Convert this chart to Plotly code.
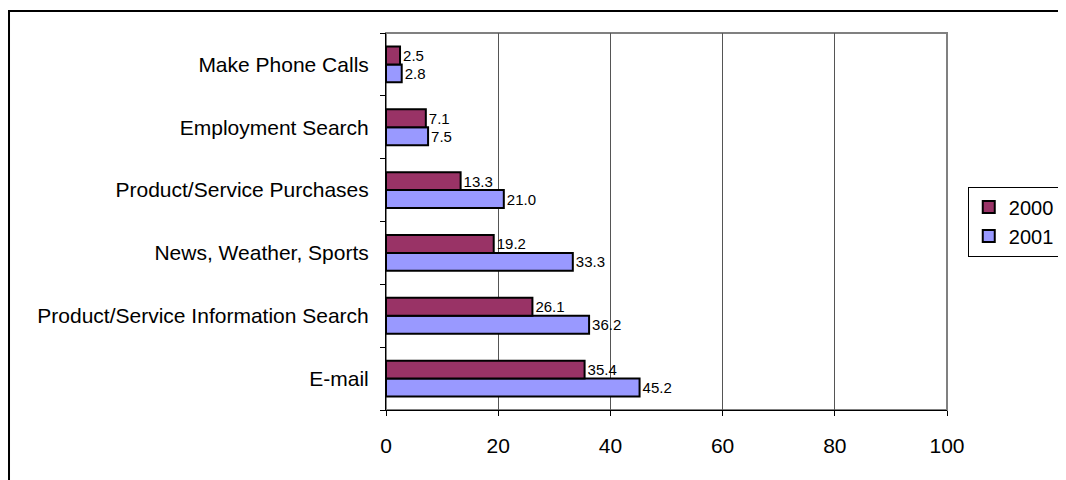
import plotly.graph_objects as go

categories = ["E-mail", "Product/Service Information Search", "News, Weather, Sports",
              "Product/Service Purchases", "Employment Search", "Make Phone Calls"]
values_2000 = [35.4, 26.1, 19.2, 13.3, 7.1, 2.5]
values_2001 = [45.2, 36.2, 33.3, 21.0, 7.5, 2.8]

font = "Liberation Sans, Arial, sans-serif"

fig = go.Figure()
# 2001 first so it sits below 2000 inside each group
fig.add_trace(go.Bar(y=categories, x=values_2001, name="2001", orientation="h",
                     marker=dict(color="#9999FF", line=dict(color="black", width=2)),
                     text=values_2001, texttemplate="%{x:.1f}", textposition="outside",
                     textfont=dict(size=15, color="black"), cliponaxis=False))
fig.add_trace(go.Bar(y=categories, x=values_2000, name="2000", orientation="h",
                     marker=dict(color="#993366", line=dict(color="black", width=2)),
                     text=values_2000, texttemplate="%{x:.1f}", textposition="outside",
                     textfont=dict(size=15, color="black"), cliponaxis=False))

# page body adds 8px offset, margins compensate for it
fig.update_layout(
    width=1066, height=480,
    margin=dict(l=378, r=127, t=25, b=78, autoexpand=False),
    paper_bgcolor="white", plot_bgcolor="white",
    font=dict(family=font, size=21, color="black"),
    barmode="group", bargap=0.43, bargroupgap=0,
    legend=dict(x=1.037, y=0.5, xanchor="left", yanchor="middle",
                traceorder="reversed", bordercolor="black", borderwidth=1,
                font=dict(size=20), itemwidth=30),
    showlegend=True,
)
fig.update_xaxes(range=[0, 100], dtick=20, showgrid=True, gridcolor="#555555", gridwidth=1,
                 showline=True, linecolor="black", linewidth=1,
                 ticks="outside", ticklen=5, tickcolor="black", zeroline=False,
                 ticklabelstandoff=12)
fig.update_yaxes(showgrid=False, showline=True, linecolor="black", linewidth=1,
                 ticks="outside", ticklen=5, tickcolor="black", tickson="boundaries",
                 ticklabelstandoff=12)

# gray plot border (top / right)
fig.add_shape(type="rect", xref="paper", yref="paper", x0=0, x1=1, y0=0, y1=1,
              line=dict(color="#808080", width=2), layer="below")
# outer chart frame
fig.add_shape(type="rect", xref="paper", yref="paper", x0=-0.672, x1=2, y0=-1, y1=1.0584,
              line=dict(color="black", width=2), layer="below")

fig.write_html("out.html")
